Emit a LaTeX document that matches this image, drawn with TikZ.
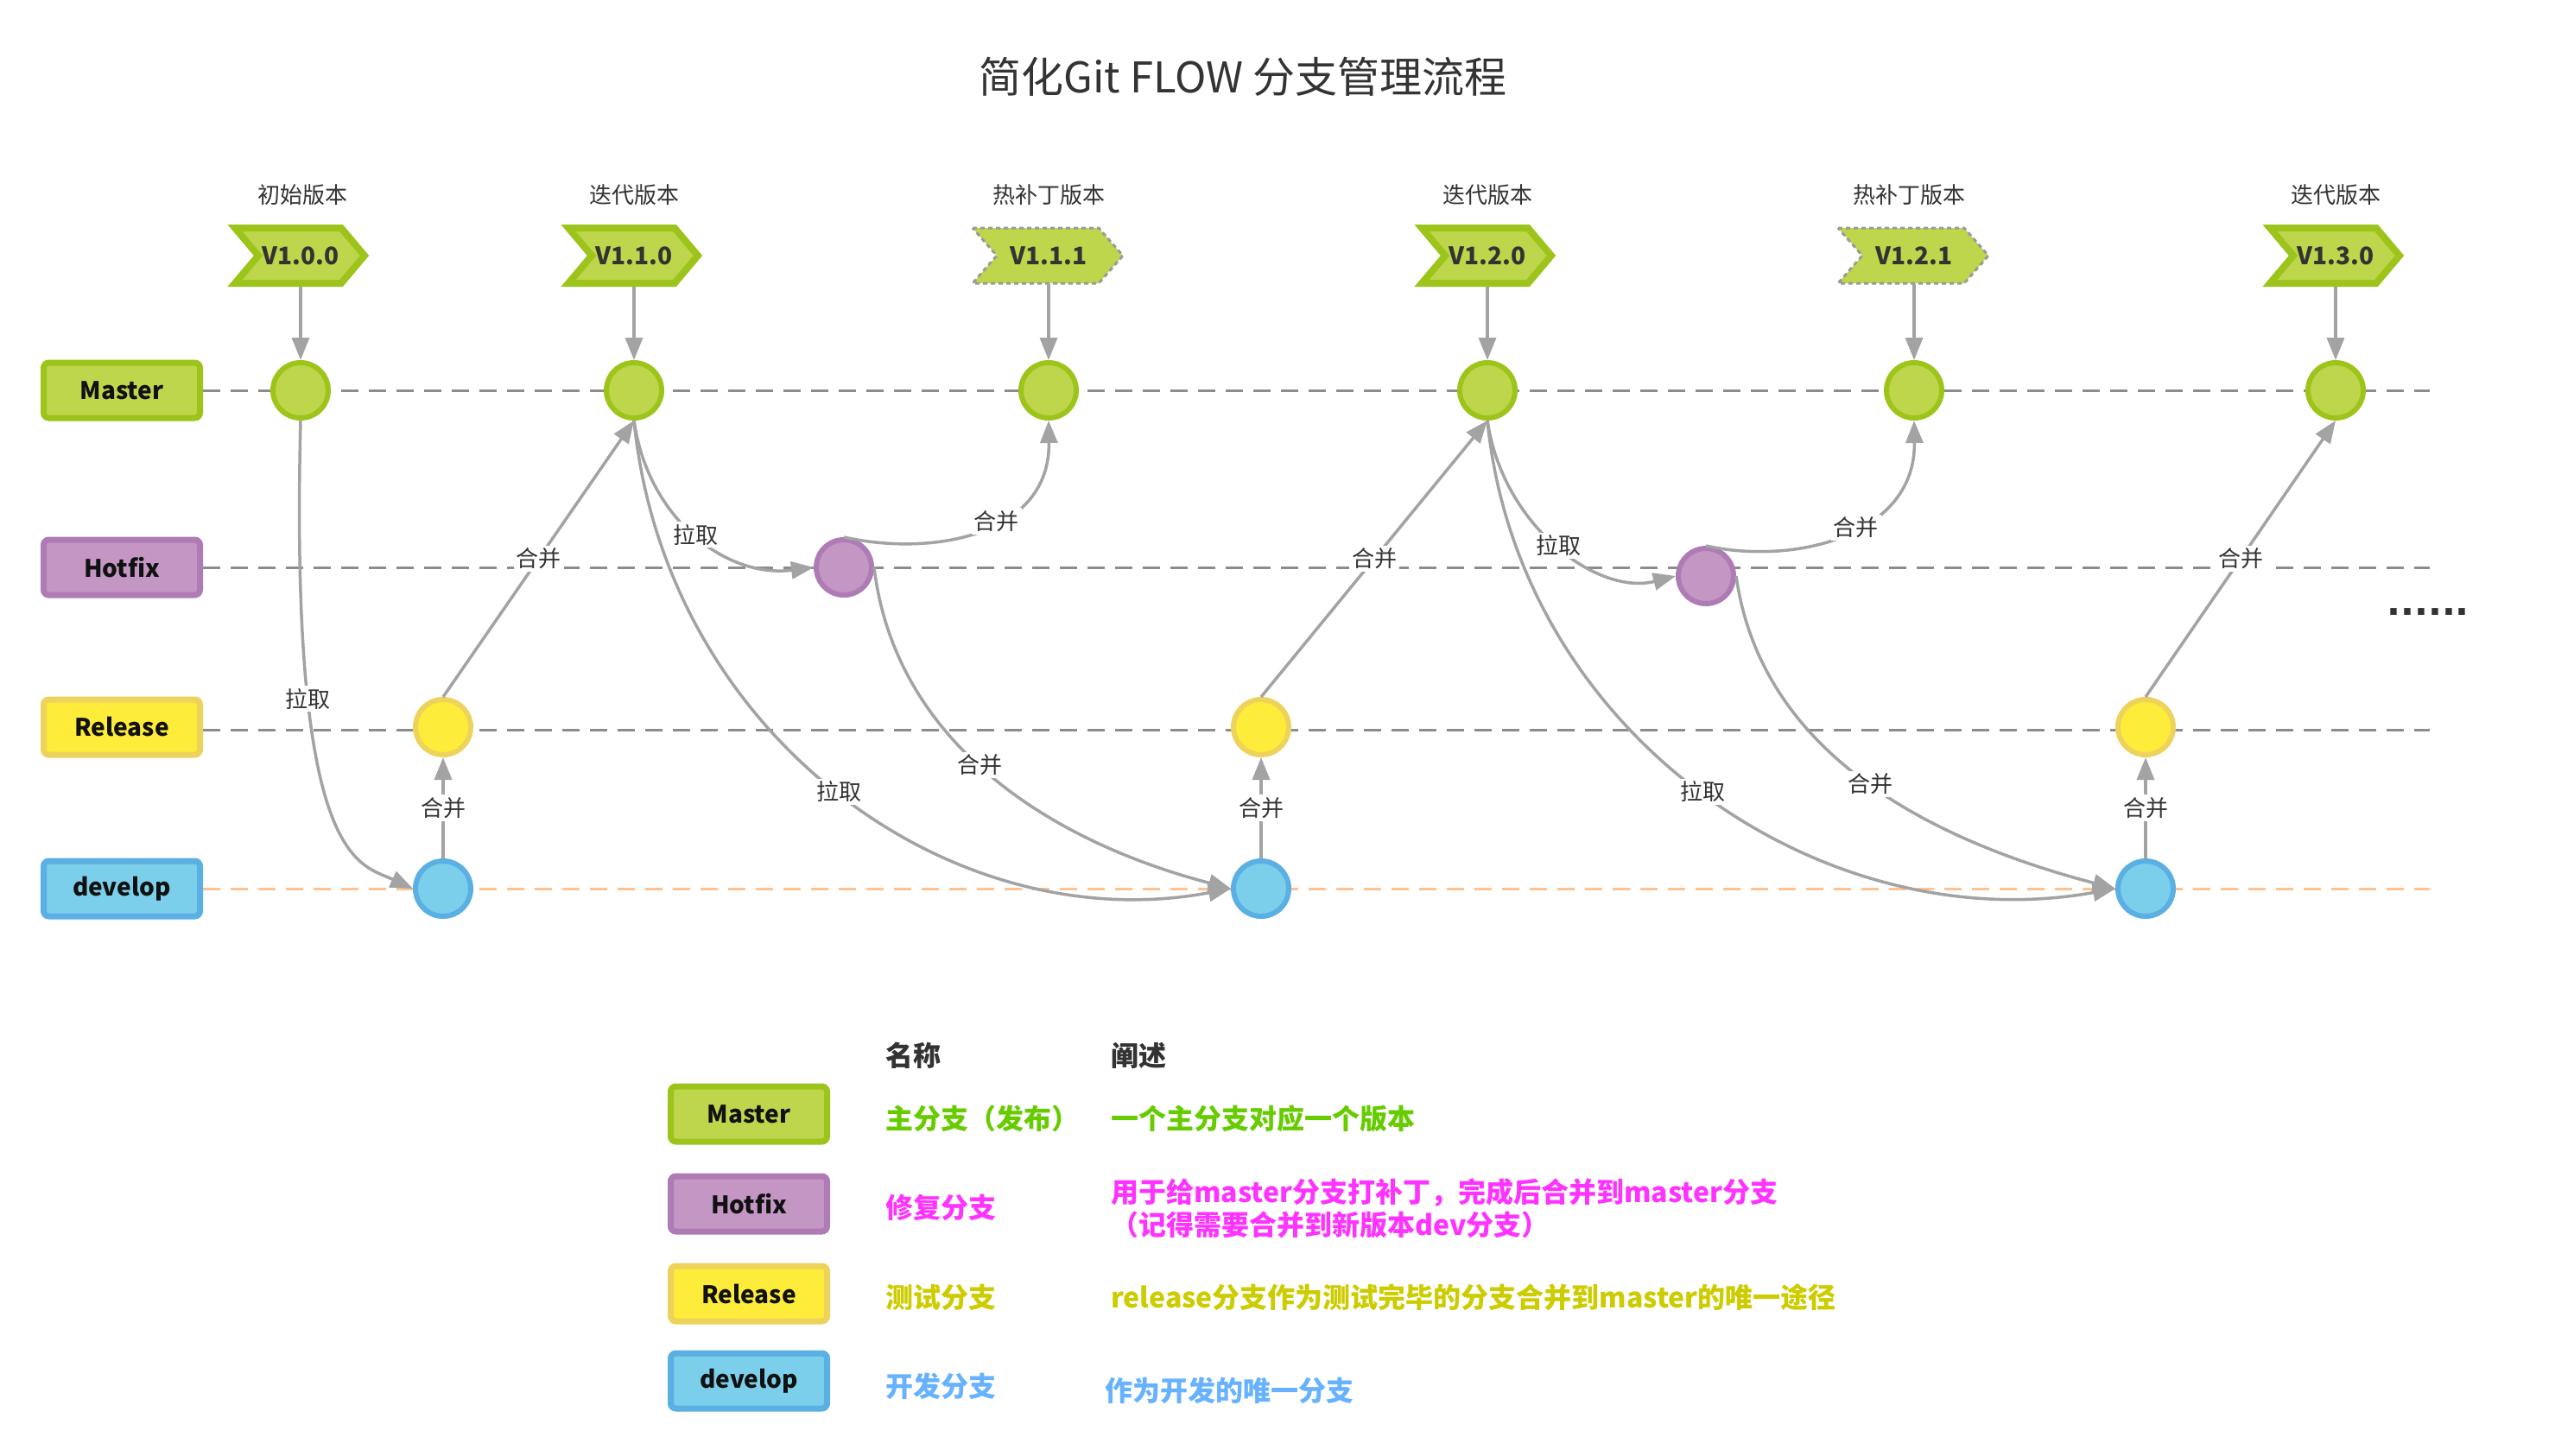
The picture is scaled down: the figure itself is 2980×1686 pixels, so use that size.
\documentclass[tikz,border=0pt]{standalone}
\usepackage{fontspec}
\setmainfont{Noto Sans CJK SC}
\newfontfamily\dotfont{DejaVu Sans}
\usetikzlibrary{arrows.meta}
\pgfdeclarelayer{bg}
\pgfsetlayers{bg,main}
\definecolor{mfill}{HTML}{BED64B}
\definecolor{mdraw}{HTML}{9DC41A}
\definecolor{hfill}{HTML}{C496C4}
\definecolor{hdraw}{HTML}{AE7BB4}
\definecolor{rfill}{HTML}{FDEC3A}
\definecolor{rdraw}{HTML}{EDD35C}
\definecolor{dfill}{HTML}{7BCFEB}
\definecolor{ddraw}{HTML}{5AAFE3}
\definecolor{conngray}{HTML}{A3A3A3}
\definecolor{lanegray}{HTML}{8C8C8C}
\definecolor{laneorange}{HTML}{FFC28F}
\definecolor{tagdot}{HTML}{9A9A9A}
\definecolor{txtdark}{HTML}{333333}
\definecolor{boxtxt}{HTML}{111111}
\definecolor{lgreen}{HTML}{66CC00}
\definecolor{lmag}{HTML}{FF33FF}
\definecolor{lolive}{HTML}{CCCC00}
\definecolor{lblue}{HTML}{66B2FF}
\newcommand\myfs[1]{\fontsize{#1pt}{#1pt}\selectfont}
\newcommand\chevsolid[2]{\path[tagsolid] (#1,#2) ++(-76,-32) -- ++(123,0) -- ++(27,32) -- ++(-27,32) -- ++(-123,0) -- ++(27,-32) -- cycle;}
\newcommand\chevdash[2]{\path[tagdash] (#1,#2) ++(-88,-32) -- ++(146,0) -- ++(28,32) -- ++(-28,32) -- ++(-146,0) -- ++(28,-32) -- cycle;}
\tikzset{
  lanebox/.style={rectangle, rounded corners=6pt, minimum width=181pt, minimum height=64pt, line width=7pt, inner sep=0pt, font=\bfseries\myfs{28}, text=boxtxt},
  mbox/.style={lanebox, fill=mfill, draw=mdraw},
  hbox/.style={lanebox, fill=hfill, draw=hdraw},
  rbox/.style={lanebox, fill=rfill, draw=rdraw},
  dbox/.style={lanebox, fill=dfill, draw=ddraw},
  commit/.style={circle, minimum size=64pt, line width=6pt, inner sep=0pt},
  mc/.style={commit, fill=mfill, draw=mdraw},
  hc/.style={commit, fill=hfill, draw=hdraw},
  rc/.style={commit, fill=rfill, draw=rdraw},
  dc/.style={commit, fill=dfill, draw=ddraw},
  lanedash/.style={line width=3pt, dash pattern=on 20pt off 12pt, draw=lanegray},
  devdash/.style={line width=3pt, dash pattern=on 20pt off 12pt, draw=laneorange},
  conn/.style={draw=conngray, line width=3.5pt, -{Triangle[length=26pt,width=20pt]}},
  lbl/.style={fill=white, inner sep=3pt, font=\myfs{26}, text=txtdark},
  tagsolid/.style={fill=mfill, draw=mdraw, line width=8pt, line join=miter},
  tagdash/.style={fill=mfill, draw=tagdot, line width=3pt, dash pattern=on 5pt off 4pt},
  tagtxt/.style={font=\bfseries\myfs{28}, text=txtdark, minimum height=72pt, inner sep=0pt},
  vlbl/.style={font=\myfs{26}, text=txtdark, inner sep=0pt},
  lgname/.style={anchor=west, inner sep=0pt, font=\bfseries\myfs{32}},
}
\begin{document}
\begin{tikzpicture}[x=1pt,y=-1pt]
\useasboundingbox (0,0) rectangle (2980,1686);
% title
\node[font=\myfs{49}, text=txtdark] (title) at (1439,89) {简化Git FLOW 分支管理流程};
% lane boxes
\node[mbox] (lm) at (141,452) {Master};
\node[hbox] (lh) at (141,657) {Hotfix};
\node[rbox] (lr) at (141,842) {Release};
\node[dbox] (ld) at (141,1029) {develop};
\coordinate (em) at (2813,452);
\coordinate (eh) at (2813,657);
\coordinate (er) at (2813,845);
\coordinate (ed) at (2813,1029);
% version tags
\chevsolid{348}{296}
\chevsolid{734}{296}
\chevdash{1214}{296}
\chevsolid{1722}{296}
\chevdash{2216}{296}
\chevsolid{2704}{296}
\node[tagtxt] (t1) at (348,296) {V1.0.0};
\node[tagtxt] (t2) at (734,296) {V1.1.0};
\node[tagtxt,minimum height=66pt] (t3) at (1214,296) {V1.1.1};
\node[tagtxt] (t4) at (1722,296) {V1.2.0};
\node[tagtxt,minimum height=66pt] (t5) at (2216,296) {V1.2.1};
\node[tagtxt] (t6) at (2704,296) {V1.3.0};
\node[vlbl] (v1) at (350,226) {初始版本};
\node[vlbl] (v2) at (734,226) {迭代版本};
\node[vlbl] (v3) at (1214,226) {热补丁版本};
\node[vlbl] (v4) at (1722,226) {迭代版本};
\node[vlbl] (v5) at (2210,226) {热补丁版本};
\node[vlbl] (v6) at (2704,226) {迭代版本};
% commits
\node[mc] (m1) at (348,452) {};
\node[mc] (m2) at (734,452) {};
\node[mc] (m3) at (1214,452) {};
\node[mc] (m4) at (1722,452) {};
\node[mc] (m5) at (2216,452) {};
\node[mc] (m6) at (2704,452) {};
\node[hc] (h1) at (977,657) {};
\node[hc] (h2) at (1975,667) {};
\node[rc] (r1) at (513,842) {};
\node[rc] (r2) at (1460,842) {};
\node[rc] (r3) at (2484,842) {};
\node[dc] (d1) at (513,1029) {};
\node[dc] (d2) at (1460,1029) {};
\node[dc] (d3) at (2484,1029) {};
\node[font=\dotfont\bfseries\myfs{42}, text=txtdark, inner sep=0pt] (dots) at (2811,709) {......};
% tag arrows
\foreach \i in {1,...,6}{\draw[conn] (t\i.south) -- (m\i.north);}
% connectors
\draw[conn] (m1.south) .. controls +(-13,513) and +(-63,-29) .. node[lbl,pos=0.28]{拉取} (d1.west);
\draw[conn] (d1.north) -- node[lbl]{合并} (r1.south);
\draw[conn] (r1.north) -- node[lbl]{合并} (m2.south);
\draw[conn] (m2.south) .. controls +(16,113) and +(-102,13) .. node[lbl,pos=0.5]{拉取} (h1.west);
\draw[conn] (m2.south) .. controls +(36,363) and +(-325,61) .. node[lbl,pos=0.5]{拉取} (d2.west);
\draw[conn] (h1.north) .. controls +(103,23) and +(2,133) .. node[lbl,pos=0.57]{合并} (m3.south);
\draw[conn] (h1.east) .. controls +(23,193) and +(-225,-59) .. node[lbl,pos=0.48]{合并} (d2.west);
\draw[conn] (r2.north) -- node[lbl]{合并} (m4.south);
\draw[conn] (d2.north) -- node[lbl]{合并} (r2.south);
\draw[conn] (m4.south) .. controls +(18,123) and +(-90,23) .. node[lbl,pos=0.5]{拉取} (h2.west);
\draw[conn] (m4.south) .. controls +(36,363) and +(-340,61) .. node[lbl,pos=0.5]{拉取} (d3.west);
\draw[conn] (h2.north) .. controls +(103,23) and +(2,133) .. node[lbl,pos=0.55]{合并} (m5.south);
\draw[conn] (h2.east) .. controls +(28,200) and +(-225,-59) .. node[lbl,pos=0.52]{合并} (d3.west);
\draw[conn] (r3.north) -- node[lbl]{合并} (m6.south);
\draw[conn] (d3.north) -- node[lbl]{合并} (r3.south);
% legend
\node[lgname, text=txtdark] (hn) at (1025,1222) {名称};
\node[lgname, text=txtdark] (hd) at (1286,1222) {阐述};
\node[mbox] (lgm) at (867,1290) {Master};
\node[hbox] (lgh) at (867,1394) {Hotfix};
\node[rbox] (lgr) at (867,1498) {Release};
\node[dbox] (lgd) at (867,1599) {develop};
\node[lgname, text=lgreen] (n1) at (1025,1295) {主分支（发布）};
\node[lgname, text=lmag] (n2) at (1025,1398) {修复分支};
\node[lgname, text=lolive] (n3) at (1025,1502) {测试分支};
\node[lgname, text=lblue] (n4) at (1025,1605) {开发分支};
\node[lgname, text=lgreen] (s1) at (1286,1295) {一个主分支对应一个版本};
\node[lgname, text=lmag, align=left, font=\bfseries\fontsize{32pt}{38pt}\selectfont] (s2) at (1286,1399) {用于给master分支打补丁，完成后合并到master分支\\（记得需要合并到新版本dev分支）};
\node[lgname, text=lolive] (s3) at (1286,1502) {release分支作为测试完毕的分支合并到master的唯一途径};
\node[lgname, text=lblue] (s4) at (1279,1610) {作为开发的唯一分支};
% background + lanes
\begin{pgfonlayer}{bg}
\fill[white] (0,0) rectangle (2980,1686);
\draw[lanedash] (lm.east) -- (em);
\draw[lanedash] (lh.east) -- (eh);
\draw[lanedash] ([yshift=-3pt]lr.east) -- (er);
\draw[devdash] (ld.east) -- (ed);
\end{pgfonlayer}
\end{tikzpicture}
\end{document}
